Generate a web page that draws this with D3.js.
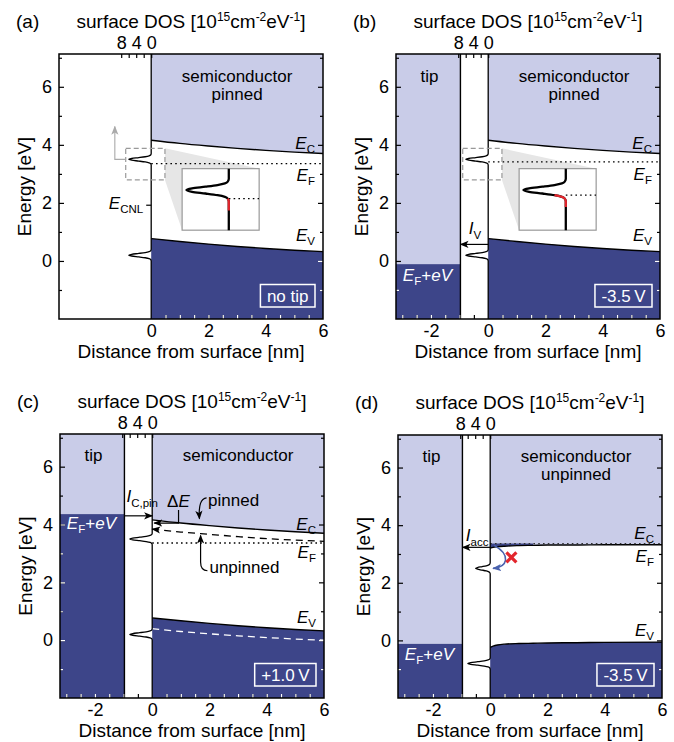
<!DOCTYPE html>
<html>
<head>
<meta charset="utf-8">
<script src="https://cdn.jsdelivr.net/npm/d3@7"></script>
<style>
  body { margin: 0; background: #fff; }
  svg { font-family: "Liberation Sans", Arial, sans-serif; }
</style>
</head>
<body>
<svg id="fig" width="674" height="742"></svg>
<script>
// ---------- data ----------
const eMajor = [0, 2, 4, 6];
const eMinor = [-1, 1, 3, 5, 7];
const xLabelsNoTip = [0, 2, 4, 6];
const xLabelsTip = [-2, 0, 2, 4, 6];
const dosTicks = [0, 2, 4, 6, 8];
const dosLabels = [0, 4, 8];

// band edges (distance [nm] -> energy [eV])
const bandX = [0, 1, 2, 3, 4, 5, 6];
const ecPinned = [4.16, 4.05, 3.96, 3.88, 3.81, 3.75, 3.70];
const evPinned = [0.77, 0.67, 0.58, 0.50, 0.43, 0.37, 0.32];
const ecUnpinned = [3.84, 3.74, 3.66, 3.58, 3.51, 3.46, 3.42];
const evUnpinned = [0.40, 0.30, 0.22, 0.15, 0.09, 0.04, 0.00];
const accX = [0, 0.1, 0.25, 0.5, 1, 1.5, 2, 3, 4, 6];
const ecAcc = [3.20, 3.23, 3.25, 3.27, 3.29, 3.30, 3.31, 3.31, 3.32, 3.32];
const evAcc = [-0.24, -0.20, -0.16, -0.13, -0.11, -0.10, -0.09, -0.08, -0.07, -0.06];

// Fermi level and tip Fermi level (E_F + eV) per panel
const efLevels = [3.35, 3.41, 3.36, 3.36];
const tipLevels = [null, -0.11, 4.36, -0.12];
const tipEdge = -0.97;

// surface DOS peak shape (energy offset, DOS) and peak positions/heights
const peakDE = [0.2, 0.15, 0.12, 0.09, 0.06, 0.03, 0, -0.03, -0.06, -0.09, -0.12, -0.15, -0.2];
const peakDOS = [0, 0.15, 0.55, 1.6, 3.3, 5.2, 6, 5.2, 3.3, 1.6, 0.55, 0.15, 0];
const peaksPinned = [[3.5, 1], [0.2, 1]];
const peaksShifted = [[2.5, 0.65], [-0.8, 1]];

// occupied part of the DOS shown red in the insets [low, high] eV
const insetRedA = [3.14, 3.35];
const insetRedB = [3.20, 3.41];

const biasLabels = ["no tip", "-3.5\u2009V", "+1.0\u2009V", "-3.5\u2009V"];
const tags = ["(a)", "(b)", "(c)", "(d)"];
const eCNL = 1.92;

// ---------- layout ----------
const W = 264;
const xMin = -3.22, eMin = -2, eMax = 7.13;
const layout = [
    {left: 59, top: 54, h: 265},
    {left: 396, top: 54, h: 265},
    {left: 60, top: 434, h: 264},
    {left: 398, top: 435, h: 263}
];
const LIGHT = "#c9cce8", DARK = "#3d4589", BLUE = "#4a62ae", RED = "#e3262d";

const svg = d3.select("#fig");
const defs = svg.append("defs");

[["arrBlack", "#000"], ["arrGrey", "#aaa"], ["arrBlue", BLUE]].forEach(([id, c]) => {
    defs.append("marker")
        .attr("id", id)
        .attr("viewBox", "0 0 10 10")
        .attr("refX", 9).attr("refY", 5)
        .attr("markerWidth", 9).attr("markerHeight", 9)
        .attr("markerUnits", "userSpaceOnUse")
        .attr("orient", "auto-start-reverse")
        .append("path")
        .attr("d", "M0,1L10,5L0,9L2.5,5Z")
        .attr("fill", c);
});

const panels = [
    {key: "a", bx: bandX, ec: ecPinned, ev: evPinned, peaks: peaksPinned, semi: ["semiconductor", "pinned"], inset: insetRedA,
     labels: {ec: 3.84, ef: 2.77, ev: 0.69}},
    {key: "b", bx: bandX, ec: ecPinned, ev: evPinned, peaks: peaksPinned, semi: ["semiconductor", "pinned"], inset: insetRedB,
     labels: {ec: 3.84, ef: 2.80, ev: 0.69}, current: {e: 0.57, dir: -1, lx: -0.68, ly: 0.92, sub: "V"}, tipText: -0.69},
    {key: "c", bx: bandX, ec: ecPinned, ev: evPinned, peaks: peaksPinned, semi: ["semiconductor"],
     labels: {ec: 3.82, ef: 2.84, ev: 0.60}, current: {e: 4.30, dir: 1, lx: -0.9, ly: 4.78, sub: "C,pin"}, tipText: 3.84},
    {key: "d", bx: accX, ec: ecAcc, ev: evAcc, peaks: peaksShifted, semi: ["semiconductor", "unpinned"],
     labels: {ec: 3.53, ef: 2.72, ev: 0.14}, current: {e: 3.23, dir: -1, lx: -0.85, ly: 3.44, sub: "acc"}, tipText: -0.67}
];

function eLabel(g, xp, yp, main, sub, opts = {}) {
    const t = g.append("text")
        .attr("x", xp).attr("y", yp)
        .attr("text-anchor", opts.anchor || "end")
        .attr("font-size", 17)
        .attr("fill", opts.fill || "#000");
    t.append("tspan").attr("font-style", "italic").text(main);
    t.append("tspan").attr("font-size", 11.5).attr("dy", opts.dy || 4).text(sub);
    return t;
}

panels.forEach((p, i) => {
    const L = layout[i];
    const H = L.h;
    const g = svg.append("g").attr("transform", `translate(${L.left},${L.top})`);

    const x = d3.scaleLinear().domain([xMin, 6]).range([0, W]);
    const y = d3.scaleLinear().domain([eMin, eMax]).range([H, 0]);
    const dos = d3.scaleLinear().domain([0, 8]).range([x(0), x(0) - 30]);
    const ef = efLevels[i];
    const tipE = tipLevels[i];

    const pts = p.bx.map((v, j) => ({x: v, ec: p.ec[j], ev: p.ev[j]}));
    const clip = defs.append("clipPath").attr("id", "dark-" + p.key);

    // semiconductor bands
    const lightArea = d3.area().x(d => x(d.x)).y0(0).y1(d => y(d.ec)).curve(d3.curveMonotoneX);
    const darkArea = d3.area().x(d => x(d.x)).y0(H).y1(d => y(d.ev)).curve(d3.curveMonotoneX);
    g.append("path").attr("d", lightArea(pts)).attr("fill", LIGHT);
    const darkD = darkArea(pts);
    g.append("path").attr("d", darkD).attr("fill", DARK);
    clip.append("path").attr("d", darkD);

    // accumulation layer (d)
    if (p.key === "d") {
        const wedge = pts.filter(d => d.x <= 1.5);
        g.append("path")
            .attr("d", d3.area().x(d => x(d.x)).y0(y(ef)).y1(d => y(d.ec)).curve(d3.curveMonotoneX)(wedge))
            .attr("fill", DARK);
    }

    // tip
    if (tipE !== null) {
        g.append("rect").attr("x", 0).attr("y", 0).attr("width", x(tipEdge)).attr("height", y(tipE)).attr("fill", LIGHT);
        g.append("rect").attr("x", 0).attr("y", y(tipE)).attr("width", x(tipEdge)).attr("height", H - y(tipE)).attr("fill", DARK);
        clip.append("rect").attr("x", 0).attr("y", y(tipE)).attr("width", x(tipEdge)).attr("height", H - y(tipE));
        g.append("line").attr("x1", x(tipEdge)).attr("x2", x(tipEdge)).attr("y1", 0).attr("y2", H)
            .attr("stroke", "#000").attr("stroke-width", 1.4);
    }

    // zoom projection and inset (a, b)
    const zr = {x0: -0.89, x1: 0.48, e0: 2.79, e1: 3.88};
    const ib = {x0: 1.08, x1: 3.77, e0: 1.06, e1: 3.18};
    if (p.inset) {
        g.append("path")
            .attr("d", `M${x(zr.x1)},${y(zr.e1)}L${x(ib.x1)},${y(ib.e1)}L${x(ib.x0)},${y(ib.e0)}L${x(zr.x1)},${y(zr.e0)}Z`)
            .attr("fill", "#e6e6e6");
    }

    const line = d3.line().x(d => x(d.x)).curve(d3.curveMonotoneX);
    g.append("path").datum(pts).attr("d", line.y(d => y(d.ec))).attr("fill", "none").attr("stroke", "#000").attr("stroke-width", 1.4);
    g.append("path").datum(pts).attr("d", line.y(d => y(d.ev))).attr("fill", "none").attr("stroke", "#000").attr("stroke-width", 1.4);

    // Fermi level
    g.append("line").attr("x1", x(0)).attr("x2", W).attr("y1", y(ef)).attr("y2", y(ef))
        .attr("stroke", p.key === "d" ? "#333" : "#000").attr("stroke-width", 1.3).attr("stroke-dasharray", "1.6,3.2");

    // unpinned bands (c)
    if (p.key === "c") {
        const up = bandX.map((v, j) => ({x: v, ec: ecUnpinned[j], ev: evUnpinned[j]}));
        g.append("path").datum(up)
            .attr("d", d3.line().x(d => x(d.x)).y(d => y(d.ec)).curve(d3.curveMonotoneX))
            .attr("fill", "none").attr("stroke", "#000").attr("stroke-width", 1.3)
            .attr("stroke-dasharray", "7,5").attr("marker-start", "url(#arrBlack)");
        g.append("path").datum(up)
            .attr("d", d3.line().x(d => x(d.x)).y(d => y(d.ev)).curve(d3.curveMonotoneX))
            .attr("fill", "none").attr("stroke", "#fff").attr("stroke-width", 1.3).attr("stroke-dasharray", "7,5");
    }

    // surface DOS
    const dosPts = [[eMax, 0]];
    p.peaks.forEach(([e0, h]) => peakDE.forEach((d, j) => dosPts.push([e0 + d, peakDOS[j] * h])));
    dosPts.push([eMin, 0]);
    g.append("path")
        .attr("d", d3.line().x(d => dos(d[1])).y(d => y(d[0])).curve(d3.curveMonotoneY)(dosPts))
        .attr("fill", "none").attr("stroke", "#000").attr("stroke-width", 1.3);

    if (p.inset) {
        // dashed zoom box
        g.append("rect").attr("x", x(zr.x0)).attr("y", y(zr.e1))
            .attr("width", x(zr.x1) - x(zr.x0)).attr("height", y(zr.e0) - y(zr.e1))
            .attr("fill", "none").attr("stroke", "#999").attr("stroke-width", 1.2).attr("stroke-dasharray", "5,3");
        // inset box
        g.append("rect").attr("x", x(ib.x0)).attr("y", y(ib.e1))
            .attr("width", x(ib.x1) - x(ib.x0)).attr("height", y(ib.e0) - y(ib.e1))
            .attr("fill", "#fff").attr("stroke", "#999").attr("stroke-width", 1.2);
        const ic = defs.append("clipPath").attr("id", "inset-" + p.key);
        ic.append("rect").attr("x", x(ib.x0)).attr("y", y(ib.e1))
            .attr("width", x(ib.x1) - x(ib.x0)).attr("height", y(ib.e0) - y(ib.e1));
        const iy = d3.scaleLinear().domain([zr.e0, zr.e1]).range([y(ib.e0), y(ib.e1)]);
        const ix = d3.scaleLinear().domain([0, 6]).range([x(2.71), x(1.23)]);
        const il = d3.line().x(d => ix(d[1])).y(d => iy(d[0])).curve(d3.curveMonotoneY);
        const ig = g.append("g").attr("clip-path", `url(#inset-${p.key})`);
        ig.append("line").attr("x1", ix(0)).attr("x2", x(ib.x1)).attr("y1", iy(ef)).attr("y2", iy(ef))
            .attr("stroke", "#000").attr("stroke-width", 1.3).attr("stroke-dasharray", "1.6,3.2");
        ig.append("path").attr("d", il(dosPts)).attr("fill", "none").attr("stroke", "#000").attr("stroke-width", 2.3);
        const red = dosPts.filter(d => d[0] <= p.inset[1] + 1e-9 && d[0] >= p.inset[0]);
        red.push([p.inset[0], 0]);
        ig.append("path").attr("d", il(red)).attr("fill", "none").attr("stroke", RED).attr("stroke-width", 2.3);
    }

    // panel (a) extras: grey arrow and E_CNL
    if (p.key === "a") {
        g.append("path")
            .attr("d", `M${x(zr.x0)},${y(3.5)}L${x(-1.27)},${y(3.5)}L${x(-1.27)},${y(4.63)}`)
            .attr("fill", "none").attr("stroke", "#aaa").attr("stroke-width", 1.1).attr("marker-end", "url(#arrGrey)");
        g.append("line").attr("x1", x(0) - 5).attr("x2", x(0)).attr("y1", y(eCNL)).attr("y2", y(eCNL))
            .attr("stroke", "#000").attr("stroke-width", 1.2);
        eLabel(g, x(0) - 8, y(eCNL) + 4, "E", "CNL");
    }

    // tunnelling currents
    if (p.current) {
        const c = p.current;
        const from = c.dir < 0 ? x(0) : x(tipEdge);
        const to = c.dir < 0 ? x(tipEdge) : x(0);
        g.append("line").attr("x1", from).attr("x2", to).attr("y1", y(c.e)).attr("y2", y(c.e))
            .attr("stroke", "#000").attr("stroke-width", 1.2).attr("marker-end", "url(#arrBlack)");
        eLabel(g, x(c.lx), y(c.ly), "I", c.sub, {anchor: "start", dy: 5});
    }

    // panel (c) annotations
    if (p.key === "c") {
        g.append("path")
            .attr("d", `M${x(0.92)},${y(4.5)}L${x(0.92)},${y(4.05)}L${x(0.07)},${y(4.05)}`)
            .attr("fill", "none").attr("stroke", "#000").attr("stroke-width", 1.2).attr("marker-end", "url(#arrBlack)");
        const de = g.append("text").attr("x", x(0.52)).attr("y", y(4.62)).attr("font-size", 17);
        de.append("tspan").text("\u0394");
        de.append("tspan").attr("font-style", "italic").text("E");
        g.append("path")
            .attr("d", `M${x(1.9)},${y(4.92)}Q${x(1.6)},${y(4.9)} ${x(1.65)},${y(4.2)}`)
            .attr("fill", "none").attr("stroke", "#000").attr("stroke-width", 1.2).attr("marker-end", "url(#arrBlack)");
        g.append("text").attr("x", x(1.95)).attr("y", y(4.63)).attr("font-size", 17).text("pinned");
        g.append("path")
            .attr("d", `M${x(1.93)},${y(2.4)}Q${x(1.69)},${y(2.4)} ${x(1.69)},${y(2.7)}L${x(1.69)},${y(3.62)}`)
            .attr("fill", "none").attr("stroke", "#000").attr("stroke-width", 1.2).attr("marker-end", "url(#arrBlack)");
        g.append("text").attr("x", x(2.0)).attr("y", y(2.33)).attr("font-size", 17).text("unpinned");
    }

    // panel (d) annotations
    if (p.key === "d") {
        g.append("path")
            .attr("d", `M${x(0.14)},${y(3.3)}C${x(0.75)},${y(2.95)} ${x(0.6)},${y(2.55)} ${x(0.1)},${y(2.5)}`)
            .attr("fill", "none").attr("stroke", BLUE).attr("stroke-width", 1.6).attr("marker-end", "url(#arrBlue)");
        const cx = x(0.74), cy = y(2.88), s = 5;
        g.append("path").attr("d", `M${cx - s},${cy - s}L${cx + s},${cy + s}M${cx - s},${cy + s}L${cx + s},${cy - s}`)
            .attr("stroke", RED).attr("stroke-width", 3.2).attr("stroke-linecap", "butt");
    }

    // ticks: black, then white where they sit on the dark fill
    function ticks(color) {
        const t = g.append("g");
        t.append("g").call(d3.axisLeft(y).tickValues(eMajor).tickSize(-5).tickFormat(""));
        t.append("g").call(d3.axisLeft(y).tickValues(eMinor).tickSize(-3).tickFormat(""));
        t.append("g").attr("transform", `translate(${W},0)`).call(d3.axisRight(y).tickValues(eMajor).tickSize(-5).tickFormat(""));
        t.append("g").attr("transform", `translate(${W},0)`).call(d3.axisRight(y).tickValues(eMinor).tickSize(-3).tickFormat(""));
        const bt = d3.range(-3, 6, 0.5).filter(v => (tipE !== null || v > 0) && v !== 0);
        t.append("g").attr("transform", `translate(0,${H})`).call(d3.axisBottom(x).tickValues(bt).tickSize(-4).tickFormat(""));
        t.append("g").call(d3.axisTop(dos).tickValues(dosTicks).tickSize(-4).tickFormat(""));
        t.selectAll(".domain").remove();
        t.selectAll("line").attr("stroke", color).attr("stroke-width", 1.2);
        return t;
    }
    ticks("#000");
    ticks("#fff").attr("clip-path", `url(#dark-${p.key})`);

    // frame
    g.append("rect").attr("width", W).attr("height", H).attr("fill", "none").attr("stroke", "#000").attr("stroke-width", 1.5);

    // tick labels
    const lab = sel => sel.call(s => s.select(".domain").remove())
        .attr("font-family", null).attr("font-size", 18)
        .call(s => s.selectAll("text").attr("fill", "#000"));
    g.append("g").call(d3.axisLeft(y).tickValues(eMajor).tickSize(0).tickPadding(7).tickFormat(d => String(d))).call(lab);
    g.append("g").attr("transform", `translate(0,${H})`)
        .call(d3.axisBottom(x).tickValues(tipE === null ? xLabelsNoTip : xLabelsTip).tickSize(0).tickPadding(5).tickFormat(d => String(d)))
        .call(lab);
    g.append("g").call(d3.axisTop(dos).tickValues(dosLabels).tickSize(0).tickPadding(5).tickFormat(d => String(d))).call(lab);

    // titles
    const tt = g.append("text").attr("x", W / 2).attr("y", -26).attr("text-anchor", "middle").attr("font-size", 19);
    tt.append("tspan").text("surface DOS [10");
    tt.append("tspan").attr("font-size", 12).attr("dy", -7).text("15");
    tt.append("tspan").attr("dy", 7).text("cm");
    tt.append("tspan").attr("font-size", 12).attr("dy", -7).text("-2");
    tt.append("tspan").attr("dy", 7).text("eV");
    tt.append("tspan").attr("font-size", 12).attr("dy", -7).text("-1");
    tt.append("tspan").attr("dy", 7).text("]");
    g.append("text").attr("x", -43).attr("y", -26).attr("font-size", 19).text(tags[i]);
    g.append("text").attr("x", W / 2).attr("y", H + 38.5).attr("text-anchor", "middle").attr("font-size", 19)
        .text("Distance from surface [nm]");
    g.append("text").attr("transform", `translate(-28,${H / 2}) rotate(-90)`).attr("text-anchor", "middle")
        .attr("font-size", 19).text("Energy [eV]");

    // region labels
    p.semi.forEach((s, j) => g.append("text").attr("x", x(3)).attr("y", y(6.18 - 0.62 * j))
        .attr("text-anchor", "middle").attr("font-size", 17).text(s));
    if (tipE !== null) {
        g.append("text").attr("x", x(-2.05)).attr("y", y(6.18)).attr("text-anchor", "middle").attr("font-size", 17).text("tip");
        const tl = eLabel(g, x(-2.98), y(p.tipText), "E", "F", {anchor: "start", fill: "#fff"});
        tl.append("tspan").attr("dy", -4).text("+");
        tl.append("tspan").attr("font-style", "italic").text("eV");
    }
    eLabel(g, x(5.72), y(p.labels.ec), "E", "C");
    eLabel(g, x(5.72), y(p.labels.ef), "E", "F");
    eLabel(g, x(5.72), y(p.labels.ev), "E", "V");

    // bias box
    const bx = g.append("text").attr("y", H - 17.5).attr("text-anchor", "middle")
        .attr("font-size", 17).attr("fill", "#fff").text(biasLabels[i]);
    const bw = bx.node().getComputedTextLength() + 13;
    bx.attr("x", W - 8 - bw / 2);
    g.append("rect").attr("x", W - 8 - bw).attr("y", H - 12 - 22.5).attr("width", bw).attr("height", 22.5)
        .attr("fill", "none").attr("stroke", "#fff").attr("stroke-width", 1.5);
});
</script>
</body>
</html>
